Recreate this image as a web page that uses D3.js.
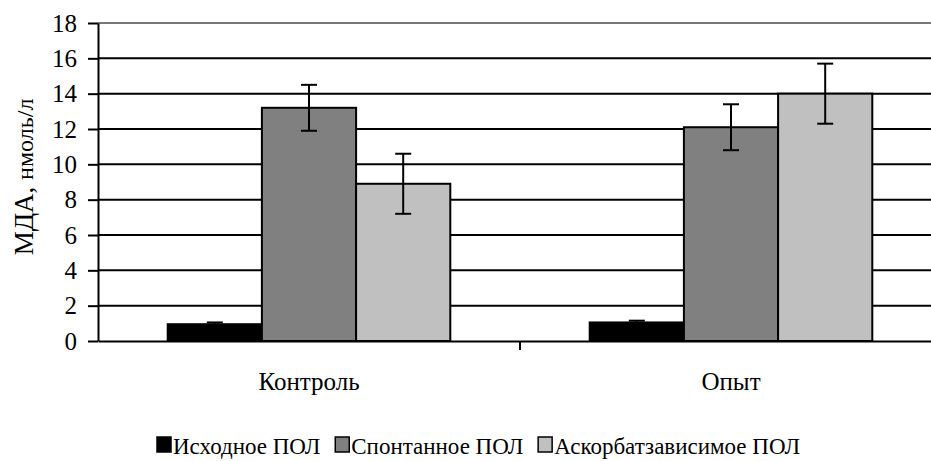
<!DOCTYPE html>
<html>
<head>
<meta charset="utf-8">
<script src="https://cdn.jsdelivr.net/npm/d3@7"></script>
<style>
  body { margin: 0; background: #fff; }
</style>
</head>
<body>
<svg id="chart" width="931" height="461"></svg>
<script>
// data
var groups = ["Контроль", "Опыт"];
var seriesNames = ["Исходное ПОЛ", "Спонтанное ПОЛ", "Аскорбатзависимое ПОЛ"];
var seriesColors = ["#000000", "#808080", "#c0c0c0"];
var isxodnoe = [0.95, 1.05];
var spontannoe = [13.2, 12.1];
var askorbat = [8.9, 14.0];
var errIsxodnoe = [0.1, 0.1];
var errSpontannoe = [1.3, 1.3];
var errAskorbat = [1.7, 1.7];
var yTicks = [0, 2, 4, 6, 8, 10, 12, 14, 16, 18];

var values = [isxodnoe, spontannoe, askorbat];
var errors = [errIsxodnoe, errSpontannoe, errAskorbat];

var font = "Liberation Serif";

var chartMargin = { top: 23, left: 98 };
var chartWidth = 844;
var chartHeight = 318;

var svg = d3.select("#chart");

var chartGroup = svg.append("g")
  .attr("transform", `translate(${chartMargin.left}, ${chartMargin.top})`);

var xScale = d3.scaleBand()
  .domain(groups)
  .range([0, chartWidth]);

var xInner = d3.scaleBand()
  .domain(d3.range(seriesNames.length))
  .range([0, xScale.bandwidth()])
  .paddingOuter(0.74);

var yScale = d3.scaleLinear()
  .domain([0, 18])
  .range([chartHeight, 0]);

// gridlines
chartGroup.selectAll(".grid")
  .data(yTicks.filter(d => d > 0))
  .enter()
  .append("line")
  .attr("x1", 0)
  .attr("x2", chartWidth)
  .attr("y1", d => yScale(d))
  .attr("y2", d => yScale(d))
  .attr("stroke", d => d === 18 ? "#777" : "#000")
  .attr("stroke-width", 2);

// bars
var rows = [];
groups.forEach(function(g, gi) {
  seriesNames.forEach(function(s, si) {
    rows.push({ group: g, si: si, value: values[si][gi], err: errors[si][gi] });
  });
});

chartGroup.selectAll(".bar")
  .data(rows)
  .enter()
  .append("rect")
  .attr("x", d => xScale(d.group) + xInner(d.si))
  .attr("y", d => yScale(d.value))
  .attr("width", xInner.bandwidth())
  .attr("height", d => chartHeight - yScale(d.value))
  .attr("fill", d => seriesColors[d.si])
  .attr("stroke", "#000")
  .attr("stroke-width", 2);

// error bars
var errGroup = chartGroup.selectAll(".err")
  .data(rows)
  .enter()
  .append("g")
  .attr("transform", d => `translate(${xScale(d.group) + xInner(d.si) + xInner.bandwidth() / 2}, 0)`);

errGroup.append("line")
  .attr("y1", d => yScale(d.value + d.err))
  .attr("y2", d => yScale(d.value - d.err))
  .attr("stroke", "#000")
  .attr("stroke-width", 2);

errGroup.selectAll(".cap")
  .data(d => [d.value + d.err, d.value - d.err])
  .enter()
  .append("line")
  .attr("x1", -8)
  .attr("x2", 8)
  .attr("y1", d => yScale(d))
  .attr("y2", d => yScale(d))
  .attr("stroke", "#000")
  .attr("stroke-width", 2);

// y axis
var leftAxis = d3.axisLeft(yScale)
  .tickValues(yTicks)
  .tickSize(10)
  .tickPadding(11)
  .tickSizeOuter(0);

var yAxis = chartGroup.append("g").call(leftAxis);
yAxis.select(".domain").attr("stroke", "#000").attr("stroke-width", 2);
yAxis.selectAll(".tick line").attr("stroke", "#000").attr("stroke-width", 2);
yAxis.selectAll(".tick text")
  .attr("fill", "#000")
  .style("font-family", font)
  .style("font-size", "25px");

// x axis
var bottomAxis = d3.axisBottom(xScale)
  .tickSize(0)
  .tickSizeOuter(0);

var xAxis = chartGroup.append("g")
  .attr("transform", `translate(0, ${chartHeight})`)
  .call(bottomAxis);
xAxis.select(".domain").attr("stroke", "#000").attr("stroke-width", 2);
xAxis.selectAll(".tick text")
  .attr("fill", "#000")
  .attr("y", 49)
  .attr("dy", 0)
  .style("font-family", font)
  .style("font-size", "25px");

// category separator tick
chartGroup.append("line")
  .attr("x1", xScale("Опыт"))
  .attr("x2", xScale("Опыт"))
  .attr("y1", chartHeight)
  .attr("y2", chartHeight + 9)
  .attr("stroke", "#000")
  .attr("stroke-width", 2);

// y axis title
var yTitle = svg.append("text")
  .attr("transform", "translate(33, 177) rotate(-90)")
  .attr("text-anchor", "middle")
  .attr("fill", "#000")
  .style("font-family", font);
yTitle.append("tspan").style("font-size", "27px").text("МДА, ");
yTitle.append("tspan").style("font-size", "24px").text("нмоль/л");

// legend
var legendLeft = 157;
var legendRight = 800;
var legend = svg.append("g").attr("transform", `translate(${legendLeft}, 454)`);
var items = seriesNames.map(function(name, i) {
  var item = legend.append("g");
  item.append("rect")
    .attr("x", 0)
    .attr("y", -17)
    .attr("width", 14)
    .attr("height", 15)
    .attr("fill", seriesColors[i])
    .attr("stroke", "#000")
    .attr("stroke-width", 1.5);
  var t = item.append("text")
    .attr("x", 16)
    .attr("y", 0)
    .attr("fill", "#000")
    .style("font-family", font)
    .style("font-size", "23px")
    .text(name);
  return { g: item, w: 16 + t.node().getComputedTextLength() };
});
var totalW = d3.sum(items, d => d.w);
var gap = Math.max(6, (legendRight - legendLeft - totalW) / (items.length - 1));
var lx = 0;
items.forEach(function(it) {
  it.g.attr("transform", `translate(${lx}, 0)`);
  lx += it.w + gap;
});
</script>
</body>
</html>
